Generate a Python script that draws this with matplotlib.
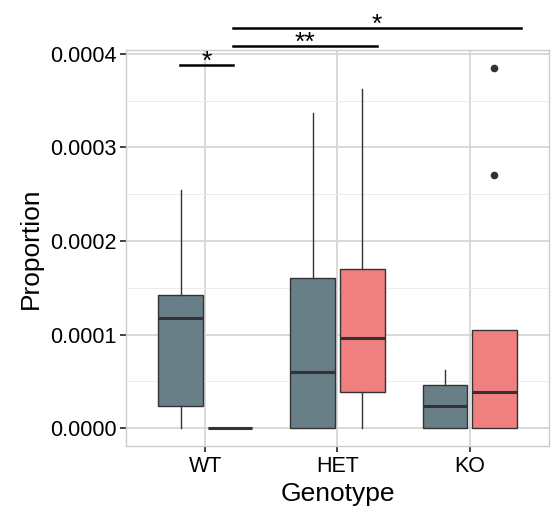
import matplotlib
matplotlib.use('Agg')
import matplotlib.pyplot as plt
import numpy as np

plt.rcParams['font.family'] = ['Liberation Sans', 'DejaVu Sans']

# 数据: 每组的箱线图统计值
genotypes = ['WT', 'HET', 'KO']
# 灰蓝色组
grey_whislo = [0.0, 0.0, 0.0]
grey_q1 = [0.234e-4, 0.0, 0.0]
grey_med = [1.18e-4, 0.60e-4, 0.24e-4]
grey_q3 = [1.425e-4, 1.60e-4, 0.457e-4]
grey_whishi = [2.54e-4, 3.37e-4, 0.62e-4]
grey_fliers = [[], [], []]
# 鲑红色组
red_whislo = [0.0, 0.0, 0.0]
red_q1 = [0.0, 0.39e-4, 0.0]
red_med = [0.0, 0.96e-4, 0.39e-4]
red_q3 = [0.0, 1.70e-4, 1.05e-4]
red_whishi = [0.0, 3.62e-4, 1.05e-4]
red_fliers = [[], [], [3.85e-4, 2.70e-4]]

# 显著性标记: (x起点, x终点, y, 标签)
sig_x0 = [0.81, 1.21, 1.21]
sig_x1 = [1.21, 2.30, 3.39]
sig_y = [3.88e-4, 4.085e-4, 4.28e-4]
sig_labels = ['*', '**', '*']

grey_col = '#687f88'
red_col = '#f08080'
edge_col = '#333333'


def make_stats(whislo, q1, med, q3, whishi, fliers):
    stats = []
    for i in range(len(med)):
        stats.append(dict(whislo=whislo[i], q1=q1[i], med=med[i], q3=q3[i],
                          whishi=whishi[i], fliers=np.array(fliers[i])))
    return stats


fig = plt.figure(figsize=(5.56, 5.12), dpi=100)
ax = fig.add_axes([0.2266, 0.1289, 0.7608, 0.7734])

pos = np.arange(1, len(genotypes) + 1)
dodge = 0.1875
width = 0.3375

for stats, offset, col in [
        (make_stats(grey_whislo, grey_q1, grey_med, grey_q3, grey_whishi, grey_fliers), -dodge, grey_col),
        (make_stats(red_whislo, red_q1, red_med, red_q3, red_whishi, red_fliers), dodge, red_col)]:
    ax.bxp(stats, positions=pos + offset, widths=width, patch_artist=True,
           showcaps=False, manage_ticks=False,
           boxprops=dict(facecolor=col, edgecolor=edge_col, linewidth=1.0),
           medianprops=dict(color=edge_col, linewidth=2.2, solid_capstyle='butt'),
           whiskerprops=dict(color=edge_col, linewidth=1.0),
           flierprops=dict(marker='o', markerfacecolor=edge_col, markeredgecolor=edge_col,
                           markersize=4.5),
           zorder=3)

ax.set_xlim(0.4, 3.6)
ax.set_ylim(-0.19e-4, 4.04e-4)
ax.set_xticks(pos)
ax.set_xticklabels(genotypes)
ax.set_yticks(np.arange(0, 4.01e-4, 1e-4))
ax.set_yticklabels([f'{v:.4f}' for v in np.arange(0, 4.01e-4, 1e-4)])
ax.set_yticks(np.arange(0.5e-4, 4e-4, 1e-4), minor=True)

ax.grid(True, which='major', color='#d6d6d6', linewidth=1.3, zorder=0)
ax.grid(True, which='minor', axis='y', color='#ececec', linewidth=0.7, zorder=0)
ax.set_axisbelow(True)
for s in ax.spines.values():
    s.set_color('#cccccc')
    s.set_linewidth(1.0)

ax.tick_params(which='major', length=4, width=1.3, color='#333333', labelsize=15.5,
               labelcolor='black', pad=3)
ax.tick_params(which='minor', length=0)

ax.set_xlabel('Genotype', fontsize=19, labelpad=4)
ax.set_ylabel('Proportion', fontsize=19, labelpad=5)

# 显著性横线和星号, 画到面板外面
for x0, x1, y, lab in zip(sig_x0, sig_x1, sig_y, sig_labels):
    ax.plot([x0, x1], [y, y], color='black', linewidth=1.8, clip_on=False, zorder=5)
    ax.annotate(lab, xy=((x0 + x1) / 2, y), xytext=(0, -3), textcoords='offset points',
                ha='center', va='baseline', fontsize=19, annotation_clip=False)

fig.savefig('out.png', dpi=100)
